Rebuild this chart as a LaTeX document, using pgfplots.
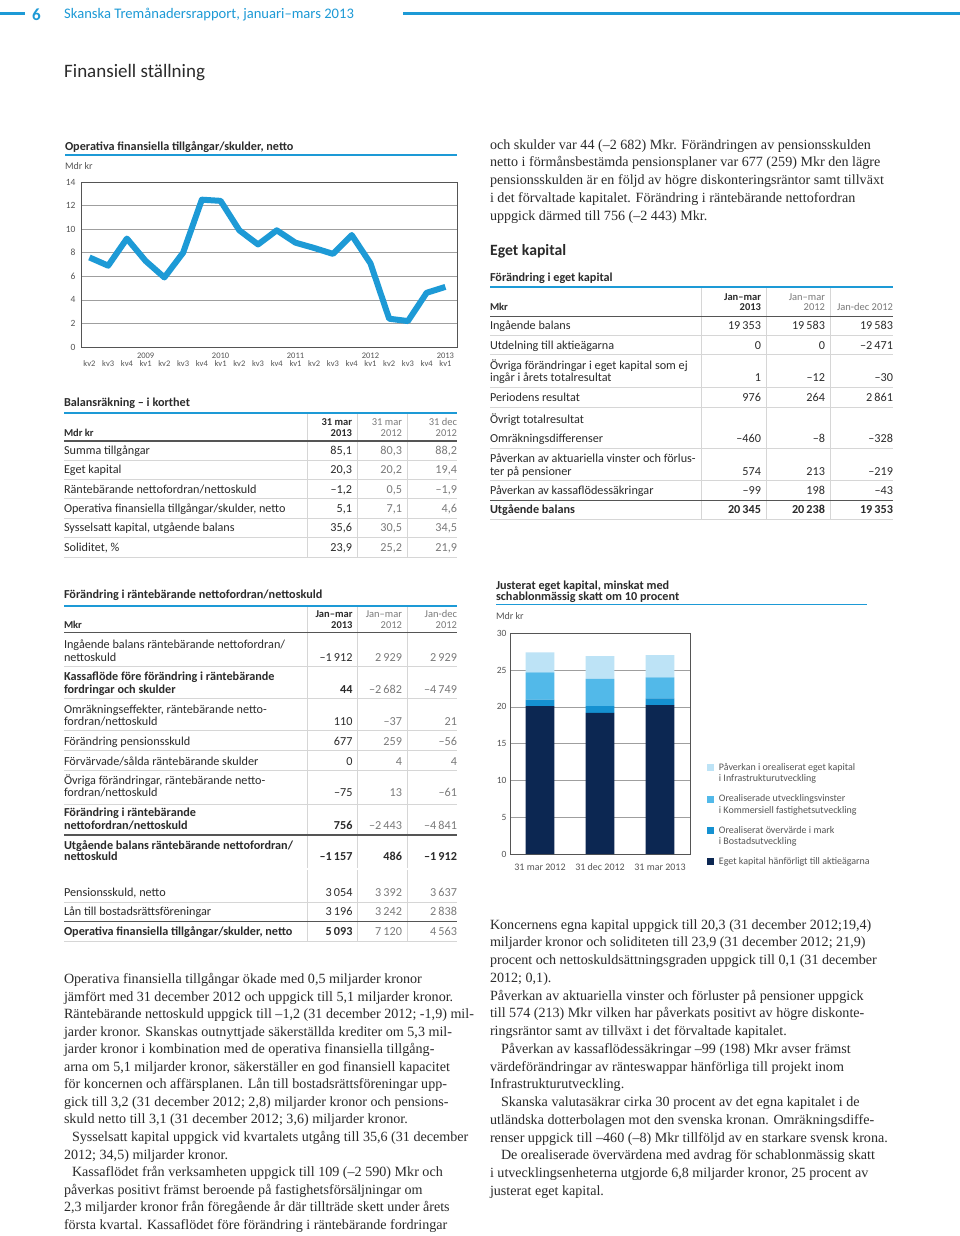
\documentclass[border=0pt]{standalone}
\usepackage{fontspec}
\setmainfont{Liberation Serif}
\newfontfamily\skf{Carlito}
\usepackage{pgfplots}
\pgfplotsset{compat=1.18}
\definecolor{sblue}{HTML}{1D9AD6}
\definecolor{navy}{HTML}{0C2752}
\definecolor{mblue}{HTML}{1591D1}
\definecolor{lblue}{HTML}{52B9E9}
\definecolor{pblue}{HTML}{BDE3F6}
\definecolor{tgray}{HTML}{7A7A7A}
\definecolor{rgray}{HTML}{D6D6D6}
\definecolor{dgray}{HTML}{555555}
\definecolor{txt}{HTML}{2B2B2B}

\newcommand\tabfont{\skf\fontsize{12.2}{13}\selectfont}
\newcommand\tabbold{\skf\bfseries\fontsize{12.2}{13}\selectfont}
\newcommand\hdf{\skf\fontsize{10.5}{11}\selectfont}
\newcommand\hdb{\skf\bfseries\fontsize{10.5}{11}\selectfont}
\newcommand\bodyfont{\fontsize{14.1}{17.5}\selectfont}

\newcommand\tl[4][]{\node[anchor=base west,inner sep=0,outer sep=0,font=\tabfont,text=txt,#1] at (#2,-#3) {#4};}
\newcommand\tr[4][]{\node[anchor=base east,inner sep=0,outer sep=0,font=\tabfont,text=txt,#1] at (#2,-#3) {#4};}
\newcommand\hr[4][]{\draw[#1] (#2,-#4) -- (#3,-#4);}
\newcommand\vr[4][]{\draw[#1] (#2,-#3) -- (#2,-#4);}
\newcommand\lb[3][64]{\node[anchor=base west,inner sep=0,outer sep=0,font=\bodyfont,text=txt] at (#1,{-(983.5+17.55*#2)}) {#3};}
\newcommand\rb[3][490]{\node[anchor=base west,inner sep=0,outer sep=0,font=\bodyfont,text=txt] at (#1,{-(929.2+17.75*#2)}) {#3};}
\newcommand\tb[3][490]{\node[anchor=base west,inner sep=0,outer sep=0,font=\bodyfont,text=txt] at (#1,{-(149.2+17.75*#2)}) {#3};}

\begin{document}
\begin{tikzpicture}[x=1pt,y=1pt,
  thin/.style={rgray,line width=0.6pt},
  hdr/.style={dgray,line width=1.1pt},
  brule/.style={sblue,line width=1.3pt}]
\path[use as bounding box,fill=white] (0,0) rectangle (960,-1236);

% ---------- page header
\draw[sblue,line width=3pt] (0,-14) -- (25,-14);
\node[anchor=base west,inner sep=0,text=sblue,font=\skf\bfseries\fontsize{17}{17}\selectfont] at (32,-20.5) {6};
\node[anchor=base west,inner sep=0,text=sblue,font=\skf\fontsize{14.6}{15}\selectfont] at (64,-19) {Skanska Tremånadersrapport, januari–mars 2013};
\draw[sblue,line width=3pt] (403,-14) -- (960,-14);
\node[anchor=base west,inner sep=0,text=txt,font=\skf\fontsize{19}{19}\selectfont] at (64,-78) {Finansiell ställning};

% ---------- line chart
\tl[font=\tabbold]{65}{150}{Operativa finansiella tillgångar/skulder, netto}
\hr[brule]{65}{457}{155}
\tl[font=\skf\fontsize{10}{10}\selectfont,text=dgray]{65}{169.5}{Mdr kr}

\begin{axis}[at={(81pt,-347pt)},anchor=south west,scale only axis,
  width=376pt,height=165pt,
  xmin=-0.45,xmax=19.62,ymin=0,ymax=14,
  ytick={0,2,...,14},xtick={0,...,19},
  xticklabels={{\phantom{0}\\kv2},{\phantom{0}\\kv3},{\phantom{0}\\kv4},{2009\\kv1},{\phantom{0}\\kv2},{\phantom{0}\\kv3},{\phantom{0}\\kv4},{2010\\kv1},{\phantom{0}\\kv2},{\phantom{0}\\kv3},{\phantom{0}\\kv4},{2011\\kv1},{\phantom{0}\\kv2},{\phantom{0}\\kv3},{\phantom{0}\\kv4},{2012\\kv1},{\phantom{0}\\kv2},{\phantom{0}\\kv3},{\phantom{0}\\kv4},{2013\\kv1}},
  ymajorgrids,grid style={gray!75,line width=0.5pt},
  axis line style={dgray,line width=0.6pt},
  major tick length=0pt,
  /pgf/number format/assume math mode=true,
  yticklabel style={font=\skf\fontsize{9.5}{9.5}\selectfont,text=dgray,xshift=-2pt},
  xticklabel style={font=\skf\fontsize{8.5}{8.8}\selectfont,text=dgray,align=center,yshift=-2pt},
]
\addplot[sblue,line width=6pt,line join=round] coordinates {
(0,7.6)(1,6.9)(2,9.2)(3,7.3)(4,5.9)(5,8.0)(6,12.5)(7,12.4)(8,9.9)(9,8.7)
(10,9.9)(11,8.85)(12,8.4)(13,7.9)(14,9.5)(15,7.1)(16,2.4)(17,2.2)(18,4.6)(19,5.1)};
\end{axis}

% ---------- table 1: Balansräkning
\tl[font=\tabbold]{64}{406}{Balansräkning – i korthet}
\vr[thin]{307}{413}{557}\vr[thin]{357}{413}{557}\vr[thin]{407}{413}{557}
\hr[brule]{64}{457}{413}
\tl[font=\hdb]{64}{436}{Mdr kr}
\tr[font=\hdb]{352}{425}{31 mar}\tr[font=\hdb]{352}{436}{2013}
\tr[font=\hdf,text=tgray]{402}{425}{31 mar}\tr[font=\hdf,text=tgray]{402}{436}{2012}
\tr[font=\hdf,text=tgray]{457}{425}{31 dec}\tr[font=\hdf,text=tgray]{457}{436}{2012}
\hr[hdr]{64}{457}{441}
\tl{64}{454.5}{Summa tillgångar}\tr{352}{454.5}{85,1}\tr[text=tgray]{402}{454.5}{80,3}\tr[text=tgray]{457}{454.5}{88,2}
\hr[thin]{64}{457}{460.5}
\tl{64}{473.5}{Eget kapital}\tr{352}{473.5}{20,3}\tr[text=tgray]{402}{473.5}{20,2}\tr[text=tgray]{457}{473.5}{19,4}
\hr[thin]{64}{457}{479.5}
\tl{64}{493}{Räntebärande nettofordran/nettoskuld}\tr{352}{493}{–1,2}\tr[text=tgray]{402}{493}{0,5}\tr[text=tgray]{457}{493}{–1,9}
\hr[thin]{64}{457}{498.5}
\tl{64}{512.5}{Operativa finansiella tillgångar/skulder, netto}\tr{352}{512.5}{5,1}\tr[text=tgray]{402}{512.5}{7,1}\tr[text=tgray]{457}{512.5}{4,6}
\hr[thin]{64}{457}{518.5}
\tl{64}{531.5}{Sysselsatt kapital, utgående balans}\tr{352}{531.5}{35,6}\tr[text=tgray]{402}{531.5}{30,5}\tr[text=tgray]{457}{531.5}{34,5}
\hr[thin]{64}{457}{537.5}
\tl{64}{551}{Soliditet, \%}\tr{352}{551}{23,9}\tr[text=tgray]{402}{551}{25,2}\tr[text=tgray]{457}{551}{21,9}
\hr[thin]{64}{457}{557}

% ---------- right column top text
\tb{0}{och skulder var 44 (–2 682) Mkr. Förändringen av pensionsskulden}
\tb{1}{netto i förmånsbestämda pensionsplaner var 677 (259) Mkr den lägre}
\tb{2}{pensionsskulden är en följd av högre diskonteringsräntor samt tillväxt}
\tb{3}{i det förvaltade kapitalet. Förändring i räntebärande nettofordran}
\tb{4}{uppgick därmed till 756 (–2 443) Mkr.}
\node[anchor=base west,inner sep=0,text=txt,font=\skf\bfseries\fontsize{15.7}{16}\selectfont] at (490,-255) {Eget kapital};

% ---------- table 2: Förändring i eget kapital
\tl[font=\tabbold]{490}{281}{Förändring i eget kapital}
\vr[thin]{701}{287}{519}\vr[thin]{766}{287}{519}\vr[thin]{830}{287}{519}
\hr[brule]{490}{893}{287}
\tl[font=\hdb]{490}{310.5}{Mkr}
\tr[font=\hdb]{761}{300}{Jan–mar}\tr[font=\hdb]{761}{310.5}{2013}
\tr[font=\hdf,text=tgray]{825}{300}{Jan–mar}\tr[font=\hdf,text=tgray]{825}{310.5}{2012}
\tr[font=\hdf,text=tgray]{893}{310.5}{Jan-dec 2012}
\hr[hdr]{490}{893}{316.5}
\tl{490}{329.5}{Ingående balans}\tr{761}{329.5}{19\,353}\tr{825}{329.5}{19\,583}\tr{893}{329.5}{19\,583}
\hr[thin]{490}{893}{335.5}
\tl{490}{349}{Utdelning till aktieägarna}\tr{761}{349}{0}\tr{825}{349}{0}\tr{893}{349}{–2\,471}
\hr[thin]{490}{893}{354.5}
\tl{490}{369}{Övriga förändringar i eget kapital som ej}
\tl{490}{381}{ingår i årets totalresultat}\tr{761}{381}{1}\tr{825}{381}{–12}\tr{893}{381}{–30}
\hr[thin]{490}{893}{387.5}
\tl{490}{401}{Periodens resultat}\tr{761}{401}{976}\tr{825}{401}{264}\tr{893}{401}{2\,861}
\hr[thin]{490}{893}{407}
\tl{490}{423.5}{Övrigt totalresultat}
\tl{490}{442.5}{Omräkningsdifferenser}\tr{761}{442.5}{–460}\tr{825}{442.5}{–8}\tr{893}{442.5}{–328}
\hr[thin]{490}{893}{448}
\tl{490}{462}{Påverkan av aktuariella vinster och förlus-}
\tl{490}{475}{ter på pensioner}\tr{761}{475}{574}\tr{825}{475}{213}\tr{893}{475}{–219}
\hr[thin]{490}{893}{480.5}
\tl{490}{494.5}{Påverkan av kassaflödessäkringar}\tr{761}{494.5}{–99}\tr{825}{494.5}{198}\tr{893}{494.5}{–43}
\hr[hdr]{490}{893}{500.5}
\tl[font=\tabbold]{490}{513}{Utgående balans}\tr[font=\tabbold]{761}{513}{20\,345}\tr[font=\tabbold]{825}{513}{20\,238}\tr[font=\tabbold]{893}{513}{19\,353}
\hr[thin]{490}{893}{519}

% ---------- table 3: Förändring i räntebärande nettofordran/nettoskuld
\tl[font=\tabbold]{64}{598.5}{Förändring i räntebärande nettofordran/nettoskuld}
\vr[thin]{307}{606}{941}\vr[thin]{357}{606}{941}\vr[thin]{407.5}{606}{941}
\hr[brule]{64}{457}{606}
\tl[font=\hdb]{64}{628.5}{Mkr}
\tr[font=\hdb]{352.5}{617.5}{Jan–mar}\tr[font=\hdb]{352.5}{628.5}{2013}
\tr[font=\hdf,text=tgray]{402}{617.5}{Jan–mar}\tr[font=\hdf,text=tgray]{402}{628.5}{2012}
\tr[font=\hdf,text=tgray]{457}{617.5}{Jan-dec}\tr[font=\hdf,text=tgray]{457}{628.5}{2012}
\hr[hdr]{64}{457}{632.5}
\tl{64}{648.5}{Ingående balans räntebärande nettofordran/}
\tl{64}{661.8}{nettoskuld}\tr{352.5}{661.8}{–1\,912}\tr[text=tgray]{402}{661.8}{2\,929}\tr[text=tgray]{457}{661.8}{2\,929}
\hr[thin]{64}{457}{666}
\tl[font=\tabbold]{64}{680.8}{Kassaflöde före förändring i räntebärande}
\tl[font=\tabbold]{64}{693.5}{fordringar och skulder}\tr[font=\tabbold]{352.5}{693.5}{44}\tr[text=tgray]{402}{693.5}{–2\,682}\tr[text=tgray]{457}{693.5}{–4\,749}
\hr[thin]{64}{457}{698.5}
\tl{64}{713.5}{Omräkningseffekter, räntebärande netto-}
\tl{64}{725.8}{fordran/nettoskuld}\tr{352.5}{725.8}{110}\tr[text=tgray]{402}{725.8}{–37}\tr[text=tgray]{457}{725.8}{21}
\hr[thin]{64}{457}{730.7}
\tl{64}{745.8}{Förändring pensionsskuld}\tr{352.5}{745.8}{677}\tr[text=tgray]{402}{745.8}{259}\tr[text=tgray]{457}{745.8}{–56}
\hr[thin]{64}{457}{750.7}
\tl{64}{765.2}{Förvärvade/sålda räntebärande skulder}\tr{352.5}{765.2}{0}\tr[text=tgray]{402}{765.2}{4}\tr[text=tgray]{457}{765.2}{4}
\hr[thin]{64}{457}{770.7}
\tl{64}{784.5}{Övriga förändringar, räntebärande netto-}
\tl{64}{796.2}{fordran/nettoskuld}\tr{352.5}{796.2}{–75}\tr[text=tgray]{402}{796.2}{13}\tr[text=tgray]{457}{796.2}{–61}
\hr[thin]{64}{457}{804}
\tl[font=\tabbold]{64}{816.8}{Förändring i räntebärande}
\tl[font=\tabbold]{64}{829.5}{nettofordran/nettoskuld}\tr[font=\tabbold]{352.5}{829.5}{756}\tr[text=tgray]{402}{829.5}{–2\,443}\tr[text=tgray]{457}{829.5}{–4\,841}
\hr[hdr]{64}{457}{835}
\tl[font=\tabbold]{64}{849.2}{Utgående balans räntebärande nettofordran/}
\tl[font=\tabbold]{64}{860.8}{nettoskuld}\tr[font=\tabbold]{352.5}{860.8}{–1\,157}\tr[font=\tabbold]{402}{860.8}{486}\tr[font=\tabbold]{457}{860.8}{–1\,912}
\draw[white,line width=2pt] (300,-869) -- (460,-869);
\tl{64}{896.8}{Pensionsskuld, netto}\tr{352.5}{896.8}{3\,054}\tr[text=tgray]{402}{896.8}{3\,392}\tr[text=tgray]{457}{896.8}{3\,637}
\hr[thin]{64}{457}{902.7}
\tl{64}{915.8}{Lån till bostadsrättsföreningar}\tr{352.5}{915.8}{3\,196}\tr[text=tgray]{402}{915.8}{3\,242}\tr[text=tgray]{457}{915.8}{2\,838}
\hr[hdr]{64}{457}{921.7}
\tl[font=\tabbold]{64}{935.2}{Operativa finansiella tillgångar/skulder, netto}\tr[font=\tabbold]{352.5}{935.2}{5\,093}\tr[text=tgray]{402}{935.2}{7\,120}\tr[text=tgray]{457}{935.2}{4\,563}
\hr[thin]{64}{457}{941}

% ---------- bar chart
\tl[font=\tabbold]{496}{589}{Justerat eget kapital, minskat med}
\tl[font=\tabbold]{496}{600.5}{schablonmässig skatt om 10 procent}
\hr[brule]{496}{867}{604.5}
\tl[font=\skf\fontsize{10}{10}\selectfont,text=dgray]{496}{619}{Mdr kr}

\begin{axis}[at={(510pt,-854pt)},anchor=south west,scale only axis,
  width=180pt,height=220.7pt,
  ybar stacked,bar width=28.7pt,
  xmin=-0.5,xmax=2.5,ymin=0,ymax=30,
  ytick={0,5,...,30},xtick={0,1,2},
  xticklabels={31 mar 2012,31 dec 2012,31 mar 2013},
  ymajorgrids,grid style={gray!75,line width=0.5pt},
  axis line style={dgray,line width=0.6pt},
  major tick length=0pt,
  /pgf/number format/assume math mode=true,
  yticklabel style={font=\skf\fontsize{9.5}{9.5}\selectfont,text=dgray},
  xticklabel style={font=\skf\fontsize{10}{10}\selectfont,text=dgray,yshift=-6pt},
  reverse legend,
  legend cell align=left,
  legend style={at={(1.093,0.421)},anchor=north west,draw=none,fill=none,
    inner sep=0pt,/tikz/row sep=7.5pt,/tikz/column sep=3pt,
    cells={align=left,inner sep=0pt,font=\skf\fontsize{10}{11.5}\selectfont,text=dgray}},
]
\addplot[fill=navy,draw=none,legend image code/.code={\fill[navy] (0pt,-3.5pt) rectangle (7pt,3.5pt);}]
  coordinates {(0,20.1)(1,19.2)(2,20.25)};
\addlegendentry{Eget kapital hänförligt till aktieägarna}
\addplot[fill=mblue,draw=none,legend image code/.code={\fill[mblue] (0pt,2.25pt) rectangle (7pt,9.25pt);}]
  coordinates {(0,0.9)(1,0.9)(2,0.9)};
\addlegendentry{Orealiserat övervärde i mark\\i Bostadsutveckling}
\addplot[fill=lblue,draw=none,legend image code/.code={\fill[lblue] (0pt,2.25pt) rectangle (7pt,9.25pt);}]
  coordinates {(0,3.7)(1,3.7)(2,2.85)};
\addlegendentry{Orealiserade utvecklingsvinster\\i Kommersiell fastighetsutveckling}
\addplot[fill=pblue,draw=none,legend image code/.code={\fill[pblue] (0pt,2.25pt) rectangle (7pt,9.25pt);}]
  coordinates {(0,2.7)(1,3.1)(2,3.05)};
\addlegendentry{Påverkan i orealiserat eget kapital\\i Infrastrukturutveckling}
\end{axis}

% ---------- left body text
\lb{0}{Operativa finansiella tillgångar ökade med 0,5 miljarder kronor}
\lb{1}{jämfört med 31 december 2012 och uppgick till 5,1 miljarder kronor.}
\lb{2}{Räntebärande nettoskuld uppgick till –1,2 (31 december 2012; -1,9) mil-}
\lb{3}{jarder kronor. Skanskas outnyttjade säkerställda krediter om 5,3 mil-}
\lb{4}{jarder kronor i kombination med de operativa finansiella tillgång-}
\lb{5}{arna om 5,1 miljarder kronor, säkerställer en god finansiell kapacitet}
\lb{6}{för koncernen och affärsplanen. Lån till bostadsrättsföreningar upp-}
\lb{7}{gick till 3,2 (31 december 2012; 2,8) miljarder kronor och pensions-}
\lb{8}{skuld netto till 3,1 (31 december 2012; 3,6) miljarder kronor.}
\lb[72]{9}{Sysselsatt kapital uppgick vid kvartalets utgång till 35,6 (31 december}
\lb{10}{2012; 34,5) miljarder kronor.}
\lb[72]{11}{Kassaflödet från verksamheten uppgick till 109 (–2 590) Mkr och}
\lb{12}{påverkas positivt främst beroende på fastighetsförsäljningar om}
\lb{13}{2,3 miljarder kronor från föregående år där tillträde skett under årets}
\lb{14}{första kvartal. Kassaflödet före förändring i räntebärande fordringar}

% ---------- right body text
\rb{0}{Koncernens egna kapital uppgick till 20,3 (31 december 2012;19,4)}
\rb{1}{miljarder kronor och soliditeten till 23,9 (31 december 2012; 21,9)}
\rb{2}{procent och nettoskuldsättningsgraden uppgick till 0,1 (31 december}
\rb{3}{2012; 0,1).}
\rb{4}{Påverkan av aktuariella vinster och förluster på pensioner uppgick}
\rb{5}{till 574 (213) Mkr vilken har påverkats positivt av högre diskonte-}
\rb{6}{ringsräntor samt av tillväxt i det förvaltade kapitalet.}
\rb[501]{7}{Påverkan av kassaflödessäkringar –99 (198) Mkr avser främst}
\rb{8}{värdeförändringar av ränteswappar hänförliga till projekt inom}
\rb{9}{Infrastrukturutveckling.}
\rb[501]{10}{Skanska valutasäkrar cirka 30 procent av det egna kapitalet i de}
\rb{11}{utländska dotterbolagen mot den svenska kronan. Omräkningsdiffe-}
\rb{12}{renser uppgick till –460 (–8) Mkr tillföljd av en starkare svensk krona.}
\rb[501]{13}{De orealiserade övervärdena med avdrag för schablonmässig skatt}
\rb{14}{i utvecklingsenheterna utgjorde 6,8 miljarder kronor, 25 procent av}
\rb{15}{justerat eget kapital.}
\end{tikzpicture}
\end{document}
